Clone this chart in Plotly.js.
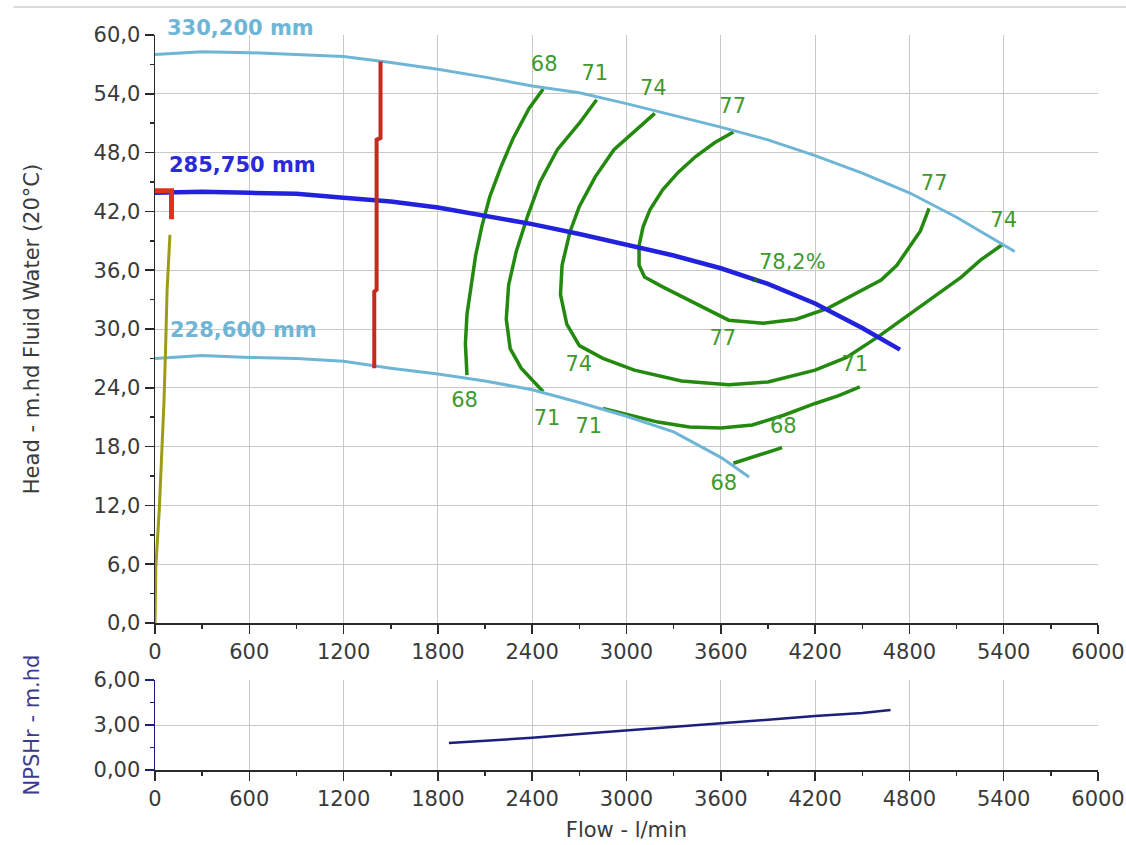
<!DOCTYPE html>
<html>
<head>
<meta charset="utf-8">
<script src="https://cdn.plot.ly/plotly-3.0.1.min.js"></script>
<style>html,body{margin:0;padding:0;background:#fff;overflow:hidden;}#chart{width:1126px;height:845px;}</style>
</head>
<body>
<div id="chart"></div>
<script>
// ---- Impeller curves (Flow l/min, Head m) ----
const flow330 = [0,300,600,900,1200,1500,1800,2100,2400,2700,3000,3300,3600,3900,4200,4500,4800,5100,5400,5470];
const head330 = [58.0,58.3,58.2,58.0,57.8,57.2,56.5,55.7,54.8,54.1,53.0,51.8,50.6,49.3,47.7,45.9,43.9,41.4,38.6,37.9];
const flow285 = [0,300,600,900,1200,1500,1800,2100,2400,2700,3000,3300,3600,3900,4200,4500,4740];
const head285 = [43.9,44.0,43.9,43.8,43.4,43.0,42.4,41.6,40.7,39.7,38.6,37.5,36.2,34.6,32.6,30.1,27.9];
const flow228 = [0,300,600,900,1200,1500,1800,2100,2400,2700,3000,3300,3600,3780];
const head228 = [27.0,27.3,27.1,27.0,26.7,26.0,25.4,24.7,23.8,22.5,21.1,19.5,16.9,14.9];

// ---- Red and olive limit lines ----
const redFlow = [1435,1435,1410,1410,1395,1395];
const redHead = [57.3,49.5,49.3,34.0,33.8,26.0];
const redShortFlow = [0,105,105];
const redShortHead = [44.1,44.1,41.2];
const oliveFlow = [0,5,27,42,57,68,77,95];
const oliveHead = [0,5.7,11.5,16.9,22.5,28.4,34.0,39.6];

// ---- Efficiency iso-lines ----
const eff68aFlow = [2470,2380,2280,2200,2130,2080,2040,2010,1985,1975,1985];
const eff68aHead = [54.5,52.5,49.5,46.5,43.5,40.5,37.5,34.5,31.5,28.5,25.3];
const eff71aFlow = [2810,2700,2560,2450,2370,2300,2250,2235,2260,2330,2470];
const eff71aHead = [53.4,51.0,48.3,45.0,41.5,38.0,34.5,31.0,28.0,26.0,23.6];
const eff74Flow = [3180,3050,2920,2800,2700,2640,2590,2580,2620,2700,2850,3050,3350,3650,3900,4200,4400,4600,4810,5000,5130,5250,5390];
const eff74Head = [52.0,50.2,48.3,45.5,42.5,39.9,36.5,33.5,30.5,28.3,27.0,25.8,24.7,24.3,24.6,25.8,27.1,29.2,31.6,33.8,35.3,37.0,38.6];
const eff77Flow = [3680,3560,3440,3330,3230,3150,3105,3080,3080,3115,3230,3450,3650,3870,4080,4280,4450,4620,4720,4790,4870,4925];
const eff77Head = [50.1,49.0,47.6,46.0,44.2,42.2,40.4,38.5,36.5,35.3,34.3,32.5,30.9,30.6,31.0,32.1,33.5,35.0,36.5,38.1,40.0,42.3];
const eff71bFlow = [2850,3000,3200,3400,3600,3800,4000,4200,4350,4485];
const eff71bHead = [21.9,21.3,20.5,20.0,19.9,20.2,21.2,22.4,23.2,24.1];
const eff68bFlow = [3680,3800,3990];
const eff68bHead = [16.3,16.9,17.9];

// Best efficiency point
const bepFlow = [3821];
const bepHead = [35.0];

// ---- Efficiency labels ----
const effLabelText = ['68','71','74','77','77','74','77','74','71','68','71','71','68','68','78,2%'];
const effLabelFlow = [2476,2798,3171,3676,4958,5400,3613,2697,4453,1970,2495,2760,3998,3619,4055];
const effLabelHead = [56.9,55.9,54.4,52.6,44.7,40.9,28.9,26.3,26.3,22.6,20.7,19.9,19.9,14.1,36.7];

// ---- Diameter labels ----
const diaText = ['330,200 mm','285,750 mm','228,600 mm'];
const diaFlow = [63,76,82];
const diaHead = [60.75,46.7,29.9];
const diaColor = ['#6fb6d6','#2a2ad8','#6fb6d6'];

// ---- NPSHr ----
const npshFlow = [1870,2100,2400,2700,3000,3300,3600,3900,4200,4500,4680];
const npshHead = [1.8,1.95,2.15,2.4,2.65,2.85,3.1,3.35,3.6,3.8,4.0];

// ---- Axis ticks ----
const flowTicks = [0,600,1200,1800,2400,3000,3600,4200,4800,5400,6000];
const headTicks = [0,6,12,18,24,30,36,42,48,54,60];
const npshTicks = [0,3,6];

const FONT = 'DejaVu Sans, Verdana, sans-serif';
const GREEN = '#23890f';
const LIGHTBLUE = '#6fb6d6';

function line(x, y, color, width, xa, ya) {
  return {x: x, y: y, type: 'scatter', mode: 'lines', line: {color: color, width: width},
          xaxis: xa || 'x', yaxis: ya || 'y', hoverinfo: 'skip', showlegend: false};
}

const traces = [
  line(eff68aFlow, eff68aHead, GREEN, 3.5),
  line(eff71aFlow, eff71aHead, GREEN, 3.5),
  line(eff74Flow, eff74Head, GREEN, 3.5),
  line(eff77Flow, eff77Head, GREEN, 3.5),
  line(eff71bFlow, eff71bHead, GREEN, 3.5),
  line(eff68bFlow, eff68bHead, GREEN, 3.5),
  line(flow330, head330, LIGHTBLUE, 3),
  line(flow228, head228, LIGHTBLUE, 3),
  line(flow285, head285, '#2222dd', 4.5),
  line(redFlow, redHead, '#c42a1e', 4),
  line(redShortFlow, redShortHead, '#e0301e', 5),
  line(oliveFlow, oliveHead, '#9c9c16', 3),
  {x: bepFlow, y: bepHead, type: 'scatter', mode: 'markers', marker: {symbol: 'triangle-up', size: 6, color: '#1d6a12'},
   xaxis: 'x', yaxis: 'y', hoverinfo: 'skip', showlegend: false},
  {x: effLabelFlow, y: effLabelHead, text: effLabelText, type: 'scatter', mode: 'text',
   textfont: {family: FONT, size: 21, color: '#3f9a2e'}, textposition: 'middle center', cliponaxis: false,
   xaxis: 'x', yaxis: 'y', hoverinfo: 'skip', showlegend: false},
  line(npshFlow, npshHead, '#1e1e7c', 2.5, 'x2', 'y2')
];

const annotations = diaText.map((t, i) => {
  const inRange = diaHead[i] <= 60;
  return {
    x: diaFlow[i], xref: 'x',
    y: inRange ? diaHead[i] : diaHead[i] / 60, yref: inRange ? 'y' : 'y domain',
    text: '<b>' + t + '</b>', showarrow: false,
    xanchor: 'left', yanchor: 'middle', font: {family: FONT, size: 21, color: diaColor[i]}
  };
});

const axisCommon = {
  showgrid: true, gridcolor: '#c9c9c9', gridwidth: 1, zeroline: false,
  showline: true, linecolor: '#2a2a2a', linewidth: 1.5,
  ticks: 'outside', ticklen: 9, tickwidth: 1.5, tickcolor: '#2a2a2a',
  ticklabeloverflow: 'allow',
  tickfont: {family: FONT, size: 21, color: '#3a3a3a'}
};

const layout = {
  width: 1126, height: 845,
  margin: {l: 155, r: 28, t: 35, b: 75},
  paper_bgcolor: '#ffffff', plot_bgcolor: '#ffffff',
  separators: ',.',
  showlegend: false,
  font: {family: FONT, color: '#3a3a3a'},
  xaxis: Object.assign({}, axisCommon, {
    anchor: 'y', domain: [0, 1], range: [0, 6000], tickmode: 'array', tickvals: flowTicks, tickformat: 'd',
    minor: {ticks: 'outside', ticklen: 4, tickcolor: '#2a2a2a', dtick: 300, tick0: 0, showgrid: false}
  }),
  yaxis: Object.assign({}, axisCommon, {
    anchor: 'x', domain: [0.2, 1], range: [0, 60], tickmode: 'array', tickvals: headTicks, tickformat: '.1f',
    minor: {ticks: 'outside', ticklen: 4, tickcolor: '#2a2a2a', dtick: 3, tick0: 0, showgrid: false},
    title: {text: 'Head - m.hd Fluid Water (20°C)', font: {family: FONT, size: 21, color: '#3a3a3a'}, standoff: 48}
  }),
  xaxis2: Object.assign({}, axisCommon, {
    anchor: 'y2', domain: [0, 1], range: [0, 6000], tickmode: 'array', tickvals: flowTicks, tickformat: 'd',
    minor: {ticks: 'outside', ticklen: 4, tickcolor: '#2a2a2a', dtick: 300, tick0: 0, showgrid: false},
    title: {text: 'Flow - l/min', font: {family: FONT, size: 21, color: '#3a3a3a'}, standoff: 12}
  }),
  yaxis2: Object.assign({}, axisCommon, {
    anchor: 'x2', domain: [0, 0.1224], range: [0, 6], tickmode: 'array', tickvals: npshTicks, tickformat: '.2f',
    linecolor: '#1e1e7c', tickcolor: '#1e1e7c',
    minor: {ticks: 'outside', ticklen: 4, tickcolor: '#1e1e7c', dtick: 1.5, tick0: 0, showgrid: false},
    title: {text: 'NPSHr - m.hd', font: {family: FONT, size: 21, color: '#3c3c8e'}, standoff: 48}
  }),
  annotations: annotations,
  shapes: [
    {type: 'line', xref: 'paper', yref: 'paper', x0: -0.15, x1: 1.04, y0: 1.038, y1: 1.038,
     line: {color: '#cfcfcf', width: 1.5}}
  ]
};

Plotly.newPlot('chart', traces, layout, {displayModeBar: false, staticPlot: true});
</script>
</body>
</html>
